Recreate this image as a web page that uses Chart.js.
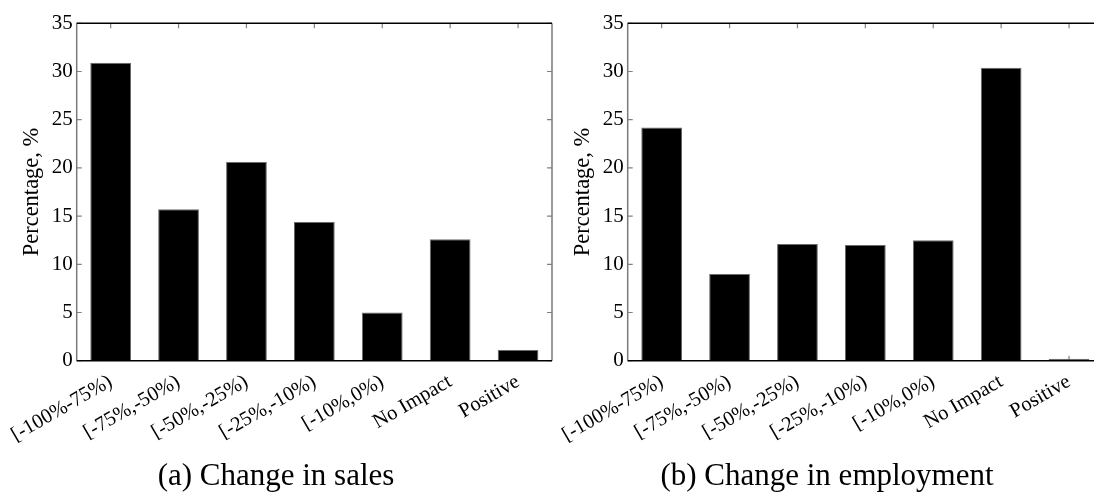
<!DOCTYPE html>
<html>
<head>
<meta charset="utf-8">
<script src="https://cdn.jsdelivr.net/npm/chart.js@4.4.1/dist/chart.umd.min.js"></script>
<style>
  html, body { margin: 0; padding: 0; background: #fff; overflow: hidden; width: 1094px; height: 492px; }
  canvas { position: absolute; top: 0; }
  #sales { left: 0; }
  #employment { left: 551px; }
</style>
</head>
<body>
<canvas id="sales" width="562" height="492"></canvas>
<canvas id="employment" width="562" height="492"></canvas>
<script>
// Response categories shared by both panels
const categories = ['[-100%-75%)', '[-75%,-50%)', '[-50%,-25%)', '[-25%,-10%)', '[-10%,0%)', 'No Impact', 'Positive'];

// Share of firms (%) in each category
const salesChange = [30.9, 15.7, 20.6, 14.4, 5.0, 12.6, 1.1];
const employmentChange = [24.2, 9.0, 12.1, 12.0, 12.5, 30.4, 0.2];

// Y axis tick values
const yTickValues = [0, 5, 10, 15, 20, 25, 30, 35];

const serif = '"Liberation Serif", "Times New Roman", serif';

// Box frame with tick marks pointing into the plot area on all four sides
const boxFrame = {
  id: 'boxFrame',
  beforeDatasetsDraw(chart) {
    const { ctx, chartArea: a, scales: { x, y } } = chart;
    const len = 5;
    ctx.save();
    ctx.strokeStyle = '#808080';
    ctx.lineWidth = 1.2;
    ctx.beginPath();
    y.ticks.forEach((t, i) => {
      const py = y.getPixelForTick(i);
      ctx.moveTo(a.left, py); ctx.lineTo(a.left + len, py);
      ctx.moveTo(a.right, py); ctx.lineTo(a.right - len, py);
    });
    x.ticks.forEach((t, i) => {
      const px = x.getPixelForTick(i);
      ctx.moveTo(px, a.top); ctx.lineTo(px, a.top + len);
      ctx.moveTo(px, a.bottom); ctx.lineTo(px, a.bottom - len);
    });
    ctx.stroke();
    ctx.restore();
  },
  afterDatasetsDraw(chart) {
    const { ctx, chartArea: a } = chart;
    ctx.save();
    ctx.lineWidth = 1.5;
    ctx.strokeStyle = '#7a7a7a';
    ctx.beginPath();
    ctx.moveTo(a.left, a.top); ctx.lineTo(a.left, a.bottom);
    ctx.moveTo(a.right, a.top); ctx.lineTo(a.right, a.bottom);
    ctx.stroke();
    ctx.strokeStyle = '#000';
    ctx.beginPath();
    ctx.moveTo(a.left, a.top); ctx.lineTo(a.right, a.top);
    ctx.moveTo(a.left, a.bottom); ctx.lineTo(a.right, a.bottom);
    ctx.stroke();
    ctx.restore();
  }
};

function makePanel(canvasId, values, caption) {
  return new Chart(document.getElementById(canvasId), {
    type: 'bar',
    data: {
      labels: categories,
      datasets: [{
        data: values,
        backgroundColor: '#000',
        borderColor: '#6a6a6a',
        borderWidth: 1,
        borderSkipped: 'start',
        barPercentage: 0.6,
        categoryPercentage: 1.0
      }]
    },
    options: {
      responsive: false,
      animation: false,
      devicePixelRatio: 1,
      layout: { padding: { top: 23.3, right: 10, left: 0, bottom: 0 } },
      plugins: {
        legend: { display: false },
        tooltip: { enabled: false },
        title: {
          display: true,
          position: 'bottom',
          text: caption,
          color: '#000',
          font: { family: serif, size: 31, weight: 'normal', lineHeight: 1 },
          padding: 0
        }
      },
      scales: {
        x: {
          grid: { display: false, drawTicks: false },
          border: { display: false },
          ticks: {
            color: '#000',
            font: { family: serif, size: 20.5 },
            minRotation: 30,
            maxRotation: 30,
            padding: 9,
            autoSkip: false
          },
          afterFit(scale) {
            scale.height = 100.3;
            // rotated labels may hang past the axis ends; they fit in the margins
            scale.paddingLeft = 0;
            scale.paddingRight = 0;
          }
        },
        y: {
          min: 0,
          max: 35,
          grid: { display: false, drawTicks: false },
          border: { display: false },
          afterBuildTicks(scale) { scale.ticks = yTickValues.map(v => ({ value: v })); },
          ticks: {
            color: '#000',
            font: { family: serif, size: 21 },
            padding: 4
          },
          title: {
            display: true,
            text: 'Percentage, %',
            color: '#000',
            font: { family: serif, size: 22.5 },
            padding: { top: 19, bottom: 0 }
          },
          afterFit(scale) { scale.width = 76.7; }
        }
      }
    },
    plugins: [boxFrame]
  });
}

makePanel('sales', salesChange, '(a) Change in sales');
makePanel('employment', employmentChange, '(b) Change in employment');
</script>
</body>
</html>
